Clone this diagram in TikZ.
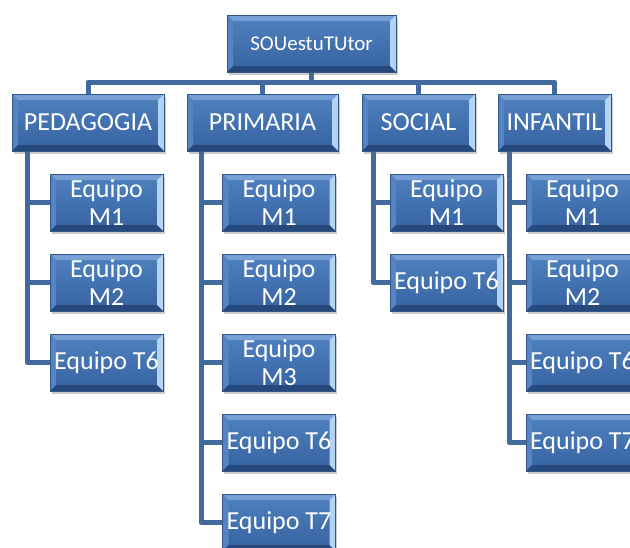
\documentclass[tikz,border=0pt]{standalone}
\usepackage{fontspec}
\newfontfamily\carlito{Carlito}
\usetikzlibrary{shadows,backgrounds}
\definecolor{facetop}{RGB}{80,130,192}
\definecolor{facebot}{RGB}{54,98,160}
\definecolor{bvtop}{RGB}{118,160,214}
\definecolor{bvleft}{RGB}{84,132,196}
\definecolor{bvright}{RGB}{178,212,242}
\definecolor{bvbot}{RGB}{38,72,122}
\definecolor{boxline}{RGB}{48,86,138}
\definecolor{conn}{RGB}{66,106,158}
\tikzset{
  bevelbox/.style={draw=boxline, line width=0.6pt, top color=facetop, bottom color=facebot,
    text=white, align=center, inner sep=0pt,
    drop shadow={opacity=0.35, shadow xshift=1.5pt, shadow yshift=-2.5pt, fill=black!60},
    path picture={
      \path (path picture bounding box.north west) coordinate (@nw)
            (path picture bounding box.south east) coordinate (@se)
            (path picture bounding box.north east) coordinate (@ne)
            (path picture bounding box.south west) coordinate (@sw);
      \fill[bvtop] (@nw) -- (@ne) -- ([shift={(-6pt,-6pt)}]@ne) -- ([shift={(6pt,-6pt)}]@nw) -- cycle;
      \fill[bvleft] (@nw) -- ([shift={(6pt,-6pt)}]@nw) -- ([shift={(6pt,6pt)}]@sw) -- (@sw) -- cycle;
      \fill[bvright] (@ne) -- ([shift={(-6pt,-6pt)}]@ne) -- ([shift={(-6pt,6pt)}]@se) -- (@se) -- cycle;
      \fill[bvbot] (@sw) -- ([shift={(6pt,6pt)}]@sw) -- ([shift={(-6pt,6pt)}]@se) -- (@se) -- cycle;
    }},
  rootbox/.style={bevelbox, minimum width=169pt, minimum height=57pt, font=\carlito\fontsize{21}{24}\selectfont},
  lvlbox/.style={bevelbox, minimum height=57pt, font=\carlito\fontsize{26}{28}\selectfont},
  childbox/.style={bevelbox, minimum width=113pt, minimum height=57pt, font=\carlito\fontsize{26}{28}\selectfont},
  link/.style={draw=conn, line width=5pt, line join=round}
}
\begin{document}
\begin{tikzpicture}[x=1pt,y=1pt]
\useasboundingbox (0,0) rectangle (630,-547);
\clip (0,0) rectangle (630,-547);
% nodes
\node[rootbox] (root) at (311.5,-43.5) {SOUestuTUtor};
\node[lvlbox, minimum width=152pt] (ped) at (88,-122.5) {PEDAGOGIA};
\node[lvlbox, minimum width=151pt] (pri) at (262.5,-122.5) {PRIMARIA};
\node[lvlbox, minimum width=113pt] (soc) at (418.5,-122.5) {SOCIAL};
\node[lvlbox, minimum width=113pt] (inf) at (554.5,-122.5) {INFANTIL};
% children
\node[childbox] (pedm1) at (106.5,-202.5) {Equipo\\M1};
\node[childbox] (pedm2) at (106.5,-282.5) {Equipo\\M2};
\node[childbox] (pedt6) at (106.5,-362.5) {Equipo T6};
\node[childbox] (prim1) at (279,-202.5) {Equipo\\M1};
\node[childbox] (prim2) at (279,-282.5) {Equipo\\M2};
\node[childbox] (prim3) at (279,-362.5) {Equipo\\M3};
\node[childbox] (prit6) at (279,-442.5) {Equipo T6};
\node[childbox] (prit7) at (279,-522.5) {Equipo T7};
\node[childbox] (socm1) at (446.5,-202.5) {Equipo\\M1};
\node[childbox] (soct6) at (446.5,-282.5) {Equipo T6};
\node[childbox] (infm1) at (582.5,-202.5) {Equipo\\M1};
\node[childbox] (infm2) at (582.5,-282.5) {Equipo\\M2};
\node[childbox] (inft6) at (582.5,-362.5) {Equipo T6};
\node[childbox] (inft7) at (582.5,-442.5) {Equipo T7};
% connectors
\coordinate (bus) at (311.5,-82);
\coordinate (pedv) at (27,-151);
\coordinate (priv) at (201,-151);
\coordinate (socv) at (373,-151);
\coordinate (infv) at (509,-151);
\begin{pgfonlayer}{background}
\draw[link] (root.south) -- (bus);
\draw[link] (bus) -| (ped.north);
\draw[link] (bus) -| (pri.north);
\draw[link] (bus) -| (soc.north);
\draw[link] (bus) -| (inf.north);
\foreach \c in {pedm1,pedm2,pedt6} \draw[link] (pedv) |- (\c.west);
\foreach \c in {prim1,prim2,prim3,prit6,prit7} \draw[link] (priv) |- (\c.west);
\foreach \c in {socm1,soct6} \draw[link] (socv) |- (\c.west);
\foreach \c in {infm1,infm2,inft6,inft7} \draw[link] (infv) |- (\c.west);
\end{pgfonlayer}
\end{tikzpicture}
\end{document}
